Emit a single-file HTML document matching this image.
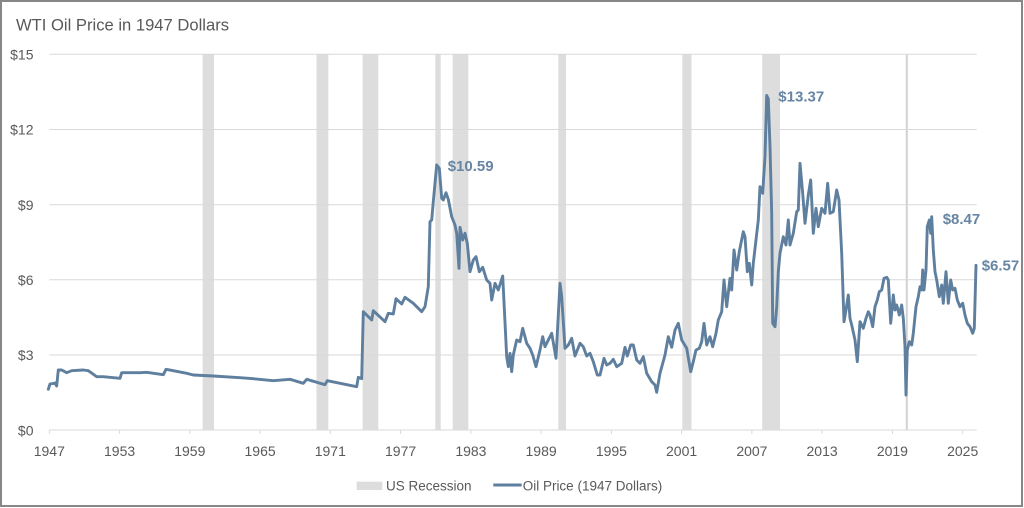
<!DOCTYPE html>
<html>
<head>
<meta charset="utf-8">
<style>
  html,body{margin:0;padding:0;background:#fff;}
  body{width:1024px;height:508px;overflow:hidden;position:relative;}
  .frame{position:absolute;left:0;top:0;width:1023px;height:507px;box-sizing:border-box;border:2px solid #878787;}
  svg{position:absolute;left:0;top:0;}
  text{font-family:"Liberation Sans",Arial,sans-serif;}
</style>
</head>
<body>
<svg width="1024" height="508" viewBox="0 0 1024 508" xmlns="http://www.w3.org/2000/svg">
  <rect x="0" y="0" width="1024" height="508" fill="#fff"/>
  <!-- title -->
  <text x="16" y="30.7" font-size="16.6" fill="#595959">WTI Oil Price in 1947 Dollars</text>

  <!-- recession bands -->
  <g fill="#dddddd">
    <rect x="202.7" y="54.3" width="11.3" height="375.7"/>
    <rect x="316.5" y="54.3" width="11.8" height="375.7"/>
    <rect x="362.7" y="54.3" width="15.6" height="375.7"/>
    <rect x="435.3" y="54.3" width="5.4" height="375.7"/>
    <rect x="452.7" y="54.3" width="15.6" height="375.7"/>
    <rect x="558.3" y="54.3" width="7.7" height="375.7"/>
    <rect x="682.3" y="54.3" width="9.2" height="375.7"/>
    <rect x="762.2" y="54.3" width="17.8" height="375.7"/>
    <rect x="905.8" y="54.3" width="2" height="375.7" fill="#d2d2d2"/>
  </g>

  <!-- gridlines -->
  <g stroke="#d9d9d9" stroke-width="1">
    <line x1="49.3" y1="54.3" x2="976.7" y2="54.3"/>
    <line x1="49.3" y1="129.5" x2="976.7" y2="129.5"/>
    <line x1="49.3" y1="204.7" x2="976.7" y2="204.7"/>
    <line x1="49.3" y1="279.8" x2="976.7" y2="279.8"/>
    <line x1="49.3" y1="355" x2="976.7" y2="355"/>
    <line x1="49.3" y1="430" x2="976.7" y2="430"/>
  </g>
  <!-- ticks -->
  <g stroke="#d9d9d9" stroke-width="1">
    <line x1="49.3" y1="430" x2="49.3" y2="434"/>
    <line x1="119.6" y1="430" x2="119.6" y2="434"/>
    <line x1="189.8" y1="430" x2="189.8" y2="434"/>
    <line x1="260.1" y1="430" x2="260.1" y2="434"/>
    <line x1="330.3" y1="430" x2="330.3" y2="434"/>
    <line x1="400.6" y1="430" x2="400.6" y2="434"/>
    <line x1="470.9" y1="430" x2="470.9" y2="434"/>
    <line x1="541.1" y1="430" x2="541.1" y2="434"/>
    <line x1="611.4" y1="430" x2="611.4" y2="434"/>
    <line x1="681.6" y1="430" x2="681.6" y2="434"/>
    <line x1="751.9" y1="430" x2="751.9" y2="434"/>
    <line x1="822.1" y1="430" x2="822.1" y2="434"/>
    <line x1="892.4" y1="430" x2="892.4" y2="434"/>
    <line x1="962.7" y1="430" x2="962.7" y2="434"/>
  </g>

  <!-- y labels -->
  <g font-size="14" fill="#595959" text-anchor="end">
    <text x="33.5" y="59.5">$15</text>
    <text x="33.5" y="134.7">$12</text>
    <text x="33.5" y="209.9">$9</text>
    <text x="33.5" y="285">$6</text>
    <text x="33.5" y="360.2">$3</text>
    <text x="33.5" y="435.3">$0</text>
  </g>
  <!-- x labels -->
  <g font-size="14" fill="#595959" text-anchor="middle">
    <text x="49.3" y="456">1947</text>
    <text x="119.6" y="456">1953</text>
    <text x="189.8" y="456">1959</text>
    <text x="260.1" y="456">1965</text>
    <text x="330.3" y="456">1971</text>
    <text x="400.6" y="456">1977</text>
    <text x="470.9" y="456">1983</text>
    <text x="541.1" y="456">1989</text>
    <text x="611.4" y="456">1995</text>
    <text x="681.6" y="456">2001</text>
    <text x="751.9" y="456">2007</text>
    <text x="822.1" y="456">2013</text>
    <text x="892.4" y="456">2019</text>
    <text x="962.7" y="456">2025</text>
  </g>

  <!-- series -->
  <polyline fill="none" stroke="#5f7f9f" stroke-width="2.9" stroke-linejoin="round" stroke-linecap="round" points="
48.3,389.3 50,384 53,383.5 55,383 56.7,386 58.3,370 61.7,370 66.7,372.7 71.7,370.7 83.3,370 88.3,370.7 96.7,376.7 103.3,376.7 120,378.3 121.7,372.7 140,372.7 146.7,372.3 163.3,374.7 166,369.3 173.3,370.7 186.7,373.3 193.3,375 213.3,376 240,377.7 253.3,378.7 273.3,380.7 290,379.3 303.3,383.3 306.7,379.3 325,384.7 327.3,380.7 356.7,386.7 358.3,377.3 361.7,378.7 363.3,311.7
371.7,320 373.3,310.7 385,321.7 388.3,313.3 393.3,314 396,298.7 401.7,304 405,297.3 413.3,303.3 421.7,311.7 425,306.7 428.3,286.7 430,221.7 431.7,220 433.3,201.7 436.7,165 439.3,168.3 441.7,198.3 443.3,200 446,192.7 448.3,199.3 451.7,216.7 455,225 456.7,233.3 459,268.3 460,227.3 462.7,240 465,233.3 467.3,243.3 470,271.7 473.3,260 476,256.7 479.3,271.7 482.7,267.3 486.7,280 490,283.3 491.7,300 495,283.3 498.3,290 502.7,276 506.7,356.7 508.3,366.7 510,353.3 511.7,371.7 513.3,355 516.7,340 520,341.7 522.7,328.3 526.7,343.3 530,348.3 532.7,355 536,366.7 540,350 542.7,336.7 545,346.7 548.3,340 551.7,333.3 556,358.3 560,283.3
561.7,296.7 565,348.3 568.3,345 571.7,338.3 575,356 580,343.3 583.3,346.7 586.7,356 590,353.3 593.3,361.7 597.3,375 600,375 604,358.3 606.7,365 610,363.3 613.3,359.3 616.7,366.7 621.7,363.3 625,347.3 627.3,356 630.7,345 633.3,345 636.7,360 640,363.3 643.3,356.7 646.7,373.3 651.7,381.7 655,385 656.7,392.3 660,373.3 665,355 668.3,336.7 671.7,347.3 675,330 678.3,323.3 681.7,340 686.7,348.3 690.7,371.7 693.3,361.7 696,350 699.3,348.3 701.7,341.7 704,323.3 706.7,345 710,336.7 712.7,346.7 716,333.3 718.3,320 721.7,311.7 724,280 726.7,306.7 730,278.3 731.7,290 734,250 736.7,270 739.3,251.7 743.3,231.7 745,236.7 747.3,271.7 749.3,263.3 751.7,285 753.3,263.3 756,240 758.3,220 760,186.7 762.7,193.3 765,156.7 766.7,95.5 768.3,99 770,146.7 771.7,213.3 772.7,323.3 775,326.7 776.7,306.7 778.3,271.7 780,253.3 783.3,236.7 786,245 788.3,220 790,245 793.3,233.3 796.7,211.7 798.3,210 800,163.3 802.7,193.3 805,223.3 808.3,195 810.7,180 813.3,233.3 816,208.3 818.3,226.7 821.7,208.3 825,213.3 827.7,183.3 830,213.3 833.3,211.7 836.7,190 839,200 841.7,253.3 844,321.7 846,310 848.3,295 850,318.3 851.7,325 855,340 857.3,361.7 860,321.7 863.3,328.3 866,318.3 868.3,311.7
870,315 872.7,326.7 875,306.7 877.3,300 879.3,291.7 881.7,290 884,278.3 886.7,277.3 888.3,280 890.7,323.3 893.3,295 895,310 896.7,305 899.3,315 901.7,305 903.3,318.3 905,346.7 906,395 907.3,350 909.3,341.7 911.7,345 913.3,333.3 916,306.7 918.3,296.7 920,286.7 921.7,290 922.7,270 924,290 926,270 927.3,226.7 929.3,220 930.7,233.3 931.7,216.7 933.3,250 935,271.7 936.7,280 939.3,296.7 941.7,285 943.3,303.3 946,271.7 948.3,303.3 950.7,280 952.7,290 955,288.3 957.3,300 960,306.7 962.7,303.3 965,315 967.3,323.3 970,326.7 972.7,333.3 974.3,328.3 976,265.3"/>

  <!-- annotations -->
  <g font-size="15" font-weight="bold" fill="#6785a4">
    <text x="447.7" y="171">$10.59</text>
    <text x="778.3" y="101.7">$13.37</text>
    <text x="942.7" y="224">$8.47</text>
    <text x="981.7" y="270.7">$6.57</text>
  </g>

  <!-- legend -->
  <rect x="356.7" y="481.7" width="25.6" height="8.3" fill="#dddddd"/>
  <text x="386" y="490.7" font-size="13.5" fill="#595959">US Recession</text>
  <line x1="493.3" y1="485" x2="521.7" y2="485" stroke="#5f7f9f" stroke-width="3"/>
  <text x="522.7" y="490.7" font-size="13.5" fill="#595959">Oil Price (1947 Dollars)</text>
</svg>
<div class="frame"></div>
</body>
</html>
